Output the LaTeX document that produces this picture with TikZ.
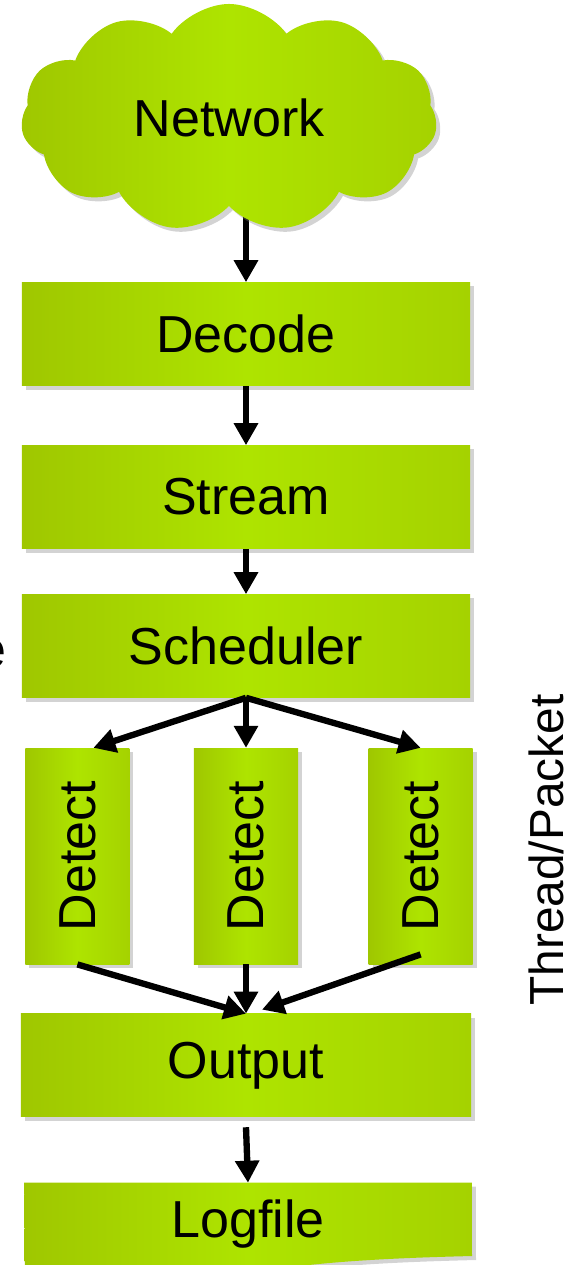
\documentclass[tikz,border=0pt]{standalone}
\usepackage{fontspec}
\setmainfont{Liberation Sans}
\usetikzlibrary{arrows.meta, positioning, shapes.symbols, shadows, backgrounds}
\definecolor{leafdark}{HTML}{9FC700}
\definecolor{leaflight}{HTML}{AEE400}
\definecolor{leafmid}{HTML}{A5D200}

\begin{document}
\begin{tikzpicture}[
  x=0.025cm, y=-0.025cm,
  font=\fontsize{37}{44}\selectfont,
  leaf/.style={left color=leafdark, right color=leafmid, middle color=leaflight,
               drop shadow={shadow xshift=1mm, shadow yshift=-1mm, opacity=0.35}},
  box/.style={rectangle, leaf, minimum width=11.2cm, minimum height=2.575cm, inner sep=0pt},
  det/.style={box, minimum width=2.6cm, minimum height=5.4cm},
  arr/.style={-{Triangle[length=5.5mm, width=5.8mm]}, line width=4.5pt}]
  \useasboundingbox (0,0) rectangle (568,1265);

  % main column
  \node[cloud, cloud puffs=11, cloud puff arc=110, aspect=1.9, leaf,
        minimum width=10.4cm, minimum height=5.7cm] (net) at (229,118) {Network};
  \node[box] (dec) at (246,334) {Decode};
  \node[box] (str) at (246,497) {Stream};
  \node[box] (sch) at (246,646) {Scheduler};

  % one detect box per thread
  \node[det, below=1.25cm of sch] (detB) {\rotatebox{90}{Detect}};
  \node[det, left=1.6cm of detB] (detA) {\rotatebox{90}{Detect}};
  \node[det, right=1.75cm of detB] (detC) {\rotatebox{90}{Detect}};

  \node[box, minimum width=11.25cm, below=1.23cm of detB] (out) {Output};
  \node[minimum width=11.175cm, minimum height=2.05cm, inner sep=0pt] (log) at (248,1224) {Logfile};
  \begin{scope}[on background layer]
    \shade[leaf] (log.north west) -- (log.north east) -- (472,1256)
      .. controls (390,1258) and (300,1262) .. (240,1276) -- (25,1295) -- cycle;
    % starts under the cloud so only its lower part shows
    \draw[arr] (net.center -| dec.north) -- (dec.north);
  \end{scope}

  \node[anchor=east] (cut) at (11,654) {e};
  \node[rotate=90, font=\fontsize{34}{40}\selectfont] (thr) at (546,850) {Thread/Packet};

  \draw[arr] (dec) -- (str);
  \draw[arr] (str) -- (sch);
  \draw[arr] (sch.south) -- ([xshift=4mm]detA.north);
  \draw[arr] (sch.south) -- (detB.north);
  \draw[arr] (sch.south) -- (detC.north);
  \draw[arr] (detA.south) -- (out.north);
  \draw[arr] (detB) -- (out);
  \draw[arr] ([yshift=2.5mm]detC.south) -- ([xshift=4mm, yshift=1mm]out.north);
  \draw[arr] ([yshift=-2.5mm]out.south) -- (log.north);
\end{tikzpicture}
\end{document}
